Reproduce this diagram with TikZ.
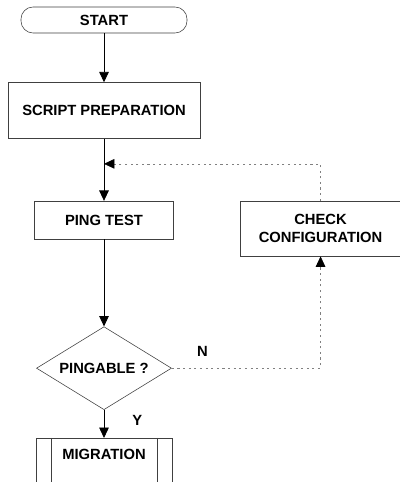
\documentclass[tikz,border=0pt]{standalone}
\usepackage{fontspec}
\setmainfont{Liberation Sans}
\usetikzlibrary{shapes.geometric, positioning, arrows.meta}
\tikzset{
>={Triangle[width=0.24cm,length=0.26cm]}, % filled arrow heads
every node/.style={font=\fontsize{10.5}{13}\selectfont\bfseries}, % bold sans text everywhere
box/.style={draw=black!75, thin, fill=white, align=center, inner sep=0pt}, % plain process box
terminal/.style={box, rounded corners=0.3cm}, % start node
decision/.style={box, diamond, aspect=1.63}, % yes/no test
flow/.style={->, black, line width=0.6pt}, % main path
loopback/.style={-{Triangle[width=0.24cm,length=0.26cm,color=black]}, gray, dash pattern=on 1.5pt off 2.5pt}, % retry path
}
\begin{document}
\begin{tikzpicture}
                \useasboundingbox (0,0) rectangle (10,-12.05);
                \node[terminal, minimum width=4.15cm, minimum height=0.65cm] (start) at (2.6,-0.5) {START};
                \node[box, below=1.225cm of start, minimum width=4.8cm, minimum height=1.4cm] (prep) {SCRIPT PREPARATION};
                \node[box, below=1.55cm of prep, minimum width=3.475cm, minimum height=0.95cm] (ping) {PING TEST};
                \node[box, right=1.65cm of ping.north east, anchor=north west, minimum width=4.025cm, minimum height=1.375cm] (check) {CHECK\\CONFIGURATION};
                \node[decision, below=2.175cm of ping, minimum width=3.375cm, minimum height=2.075cm] (pingable) {PINGABLE ?};
                \node[box, below=0.7cm of pingable, minimum width=3.4cm, minimum height=1.125cm, text depth=0.3cm] (mig) {MIGRATION};
                \coordinate[below=0.625cm of prep] (join);
                \node[above right=0.275cm and 0.625cm of pingable.east, inner sep=0pt] (no) {N};
                \node[below right=0.125cm and 0.7cm of pingable.south, inner sep=0pt] (yes) {Y};
                \draw[box] ([xshift=0.4cm]mig.north west) -- ([xshift=0.4cm]mig.south west)
                    ([xshift=-0.375cm]mig.north east) -- ([xshift=-0.375cm]mig.south east);
                \draw[flow]
                    (start) edge (prep)
                    (prep) edge (ping)
                    (ping) edge (pingable)
                    (pingable) edge (mig)
                    ;
                \draw[loopback] (pingable.east) -| (check.south);
                \draw[loopback] (check.north) |- (join);
            \end{tikzpicture}
\end{document}
